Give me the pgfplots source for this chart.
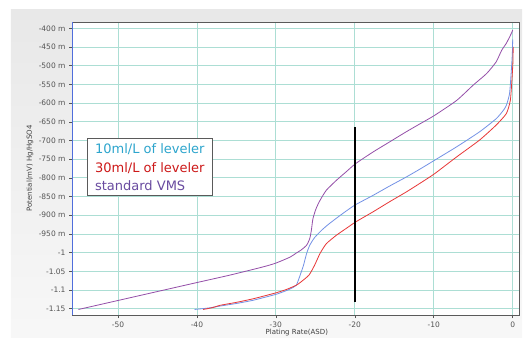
\documentclass[border=0pt]{standalone}
\usepackage{fontspec}
\setmainfont{DejaVu Sans}
\usepackage{pgfplots}
\pgfplotsset{compat=1.18}
\definecolor{gridc}{RGB}{172,222,212}
\definecolor{cblue}{RGB}{115,145,230}
\definecolor{cred}{RGB}{232,55,55}
\definecolor{cpur}{RGB}{148,78,168}
\definecolor{lblue}{RGB}{45,165,205}
\definecolor{lred}{RGB}{205,25,25}
\definecolor{lpur}{RGB}{105,75,160}
\definecolor{axc}{RGB}{90,90,90}
\definecolor{tickc}{RGB}{85,85,85}
\definecolor{spineb}{RGB}{80,110,220}
\begin{document}
\begin{tikzpicture}
\useasboundingbox (-72pt,-33pt) rectangle (454pt,315pt);
\fill[top color=black!9, bottom color=black!3] (-61pt,-22pt) rectangle (450pt,305pt);
\begin{axis}[
  at={(0pt,0pt)}, anchor=south west,
  scale only axis, width=447pt, height=293pt,
  xmin=-55.82, xmax=0.80, ymin=-1.1668, ymax=-0.3832,
  axis background/.style={fill=white},
  axis line style={draw=axc, line width=0.8pt},
  xtick={-50,-40,-30,-20,-10,0},
  xticklabels={-50,-40,-30,-20,-10,0},
  ytick={-1.15,-1.1,-1.05,-1,-0.95,-0.9,-0.85,-0.8,-0.75,-0.7,-0.65,-0.6,-0.55,-0.5,-0.45,-0.4},
  yticklabels={-1.15,-1.1,-1.05,-1,-950 m,-900 m,-850 m,-800 m,-750 m,-700 m,-650 m,-600 m,-550 m,-500 m,-450 m,-400 m},
  tick label style={font=\fontsize{7.5}{8}\selectfont, text=tickc},
  tick align=outside, major tick length=3pt,
  tick style={draw=tickc, line width=0.5pt},
  xtick pos=bottom, ytick pos=left,
  grid=major,
  major grid style={draw=gridc, line width=0.7pt},
  xlabel={Plating Rate(ASD)},
  ylabel={Potential(mV) Hg/HgSO4},
  label style={font=\fontsize{7}{8}\selectfont, text=black!75},
  xlabel style={at={(axis description cs:0.503,-0.0614)}, anchor=center},
  ylabel style={at={(axis description cs:-0.094,0.5)}, anchor=center},
  clip=true,
]
% 10 ml/L of leveler
\addplot[cblue, line width=0.8pt, smooth, tension=0.35] coordinates {
(-40.3,-1.152) (-38.5,-1.148) (-37.1,-1.143) (-35,-1.136) (-33,-1.128) (-31.5,-1.120)
(-29.9,-1.111) (-28.6,-1.101) (-27.8,-1.093) (-27.4,-1.087) (-27.0,-1.065) (-26.5,-1.034)
(-26.1,-1.002) (-25.7,-0.980) (-25.1,-0.960) (-24.2,-0.940) (-23.2,-0.922) (-21.5,-0.895)
(-20,-0.873) (-17.7,-0.847) (-15.6,-0.822) (-13.5,-0.798) (-11.7,-0.776) (-9.9,-0.753)
(-7.1,-0.717) (-4.2,-0.677) (-2.1,-0.642) (-1.2,-0.620) (-0.8,-0.606) (-0.4,-0.575)
(-0.2,-0.521) (-0.05,-0.470) (0.0,-0.430)
};
% 30 ml/L of leveler
\addplot[cred, line width=0.8pt, smooth, tension=0.35] coordinates {
(-39.2,-1.152) (-38.0,-1.147) (-37.1,-1.141) (-35,-1.133) (-33,-1.124) (-31.5,-1.116)
(-29.9,-1.107) (-28.6,-1.098) (-27.4,-1.087) (-26.8,-1.078) (-25.8,-1.060) (-25.1,-1.034)
(-24.4,-1.002) (-23.6,-0.976) (-22.3,-0.953) (-21.0,-0.934) (-19.9,-0.918) (-17.7,-0.891)
(-15.6,-0.864) (-13.5,-0.838) (-11.7,-0.814) (-9.9,-0.789) (-7.1,-0.744) (-4.2,-0.699)
(-2.1,-0.659) (-0.8,-0.628) (-0.3,-0.593) (-0.1,-0.539) (0.03,-0.490) (0.06,-0.450)
};
% standard VMS
\addplot[cpur, line width=0.8pt, smooth, tension=0.35] coordinates {
(-55,-1.152) (-50,-1.128) (-45,-1.104) (-40,-1.080) (-35.8,-1.060) (-31.6,-1.038)
(-30,-1.028) (-28.2,-1.012) (-27.4,-1.001) (-26.8,-0.993) (-26.1,-0.980) (-25.7,-0.962)
(-25.5,-0.940) (-25.3,-0.909) (-24.9,-0.882) (-24.4,-0.860) (-23.6,-0.833) (-22.3,-0.806)
(-21.1,-0.784) (-19.9,-0.762) (-17.7,-0.731) (-15.6,-0.704) (-13.5,-0.677) (-11.7,-0.655)
(-9.9,-0.633) (-7.1,-0.593) (-5.0,-0.552) (-3.3,-0.521) (-2.1,-0.490) (-1.4,-0.459)
(-0.8,-0.440) (-0.2,-0.415) (0.0,-0.405)
};
% marker line at -20 ASD
\addplot[black, line width=1.6pt] coordinates {(-20,-0.664) (-20,-1.132)};
\draw[spineb, line width=1pt] (rel axis cs:0,0) -- (rel axis cs:0,1);
\node[draw=axc, fill=white, line width=0.7pt, anchor=north west, inner xsep=8pt, inner ysep=5pt,
      align=left, font=\fontsize{13}{18.5}\selectfont]
  at (rel axis cs:0.0329,0.603)
  {\textcolor{lblue}{10ml/L of leveler}\\\textcolor{lred}{30ml/L of leveler}\\\textcolor{lpur}{standard VMS}};
\end{axis}
\end{tikzpicture}
\end{document}
